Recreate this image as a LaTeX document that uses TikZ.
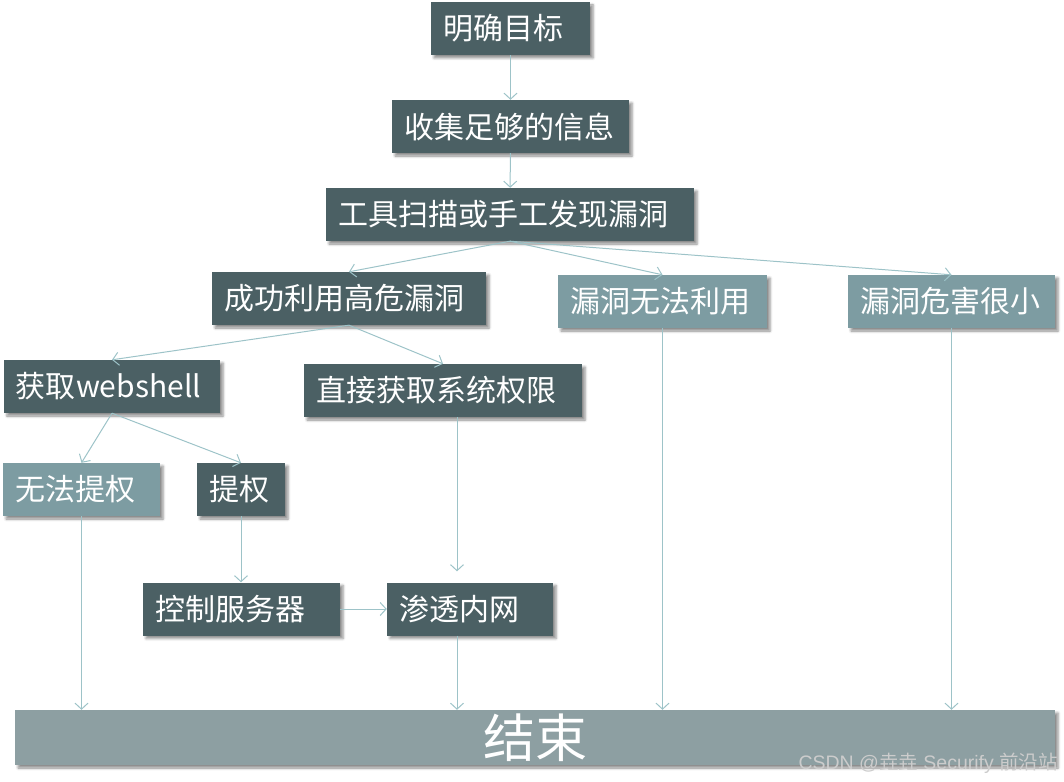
\documentclass[tikz,border=0pt]{standalone}
\usepackage{fontspec}
\usepackage{xcolor}
\usepackage{tikz}
\usetikzlibrary{positioning, arrows.meta, shadows.blur}
\newfontfamily\cjk{Noto Sans CJK SC}
\newfontfamily\wmsans{Liberation Sans}
\definecolor{deepteal}{HTML}{4B6064}
\definecolor{paleteal}{HTML}{7D9CA2}
\definecolor{endgray}{HTML}{8D9FA2}
\definecolor{linkteal}{HTML}{9DC3C8}

\begin{document}
\begin{tikzpicture}[
    x=1pt, y=-1pt,
    box/.style={rectangle, minimum height=53pt, inner xsep=12pt, inner ysep=0pt, align=left, text=white,
        font=\cjk\fontsize{30}{34}\selectfont,
        blur shadow={shadow xshift=3pt, shadow yshift=-3pt, shadow blur radius=2.5pt, shadow opacity=45}},
    darkbox/.style={box, fill=deepteal},
    lightbox/.style={box, fill=paleteal},
    arr/.style={-{Straight Barb[length=6pt, width=13pt]}, line width=1pt, linkteal},
]
\useasboundingbox (0,0) rectangle (1064,781);

\node[darkbox, text width=135pt] (goal) at (510.5, 28.5) {明确目标};
\node[darkbox, text width=213pt] (info) at (510.5, 126.5) {收集足够的信息};
\node[darkbox, text width=344pt] (scan) at (510, 214.5) {工具扫描或手工发现漏洞};

\node[darkbox, text width=250pt] (exploit) at (349, 298.5) {成功利用高危漏洞};
\node[lightbox, text width=185pt] (unusable) at (662.5, 301.5) {漏洞无法利用};
\node[lightbox, text width=183pt] (minor) at (951.5, 301.5) {漏洞危害很小};

\node[darkbox, text width=192pt] (webshell) at (112, 386.5) {获取webshell};
\node[darkbox, text width=254pt] (direct) at (443, 390.5) {直接获取系统权限};

\node[lightbox, text width=133pt] (noesc) at (81.5, 489.5) {无法提权};
\node[darkbox, text width=64pt] (esc) at (241, 489.5) {提权};

\node[darkbox, text width=173pt] (server) at (241.5, 609) {控制服务器};
\node[darkbox, text width=142pt] (intranet) at (470, 609) {渗透内网};

\node[rectangle, fill=endgray, minimum width=1040pt, minimum height=55pt, text=white,
    font=\cjk\fontsize{52}{58}\selectfont,
    blur shadow={shadow xshift=3pt, shadow yshift=-3pt, shadow blur radius=2.5pt, shadow opacity=45}]
    (finish) at (535, 737.5) {结束};

\draw[arr] (goal) -- (info);
\draw[arr] (info) -- (scan);
\draw[arr] (scan.south) -- (exploit.north);
\draw[arr] (scan.south) -- (unusable.north);
\draw[arr] (scan.south) -- (minor.north);
\draw[arr] (exploit.south) -- (webshell.north);
\draw[arr] (exploit.south) -- (direct.north);
\draw[arr] (webshell.south) -- (noesc.north);
\draw[arr] (webshell.south) -- (esc.north);
\draw[arr] (esc.south) -- (esc.south |- server.north);
\draw[arr] (server.east) -- (intranet.west);
\draw[arr, shorten >=11pt] ([xshift=-13pt]intranet.north |- direct.south) -- ([xshift=-13pt]intranet.north);

\draw[arr] (noesc.south) -- (noesc.south |- finish.north);
\draw[arr] ([xshift=-13pt]intranet.south) -- ([xshift=-13pt]intranet.south |- finish.north);
\draw[arr] (unusable.south) -- (unusable.south |- finish.north);
\draw[arr] (minor.south) -- (minor.south |- finish.north);

\node[anchor=east, text=black!20, inner sep=0pt, font=\wmsans\fontsize{19.5}{22}\selectfont]
    (wmark) at (1058, 763) {CSDN @{\cjk 垚垚} Securify {\cjk 前沿站}};

\end{tikzpicture}
\end{document}
